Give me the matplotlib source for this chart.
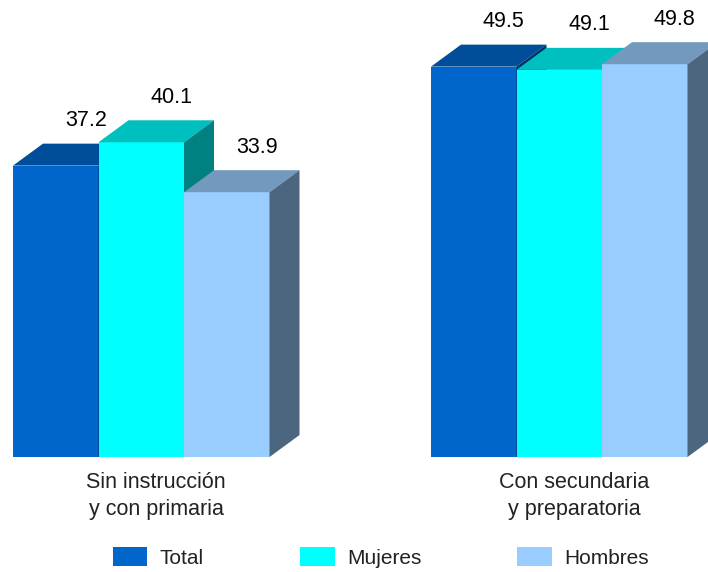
import matplotlib
matplotlib.use('Agg')
import matplotlib.pyplot as plt
import matplotlib.colors as mcolors
from matplotlib.patches import Polygon, Patch

# data
categories = ['Sin instrucción\ny con primaria', 'Con secundaria\ny preparatoria']
series = ['Total', 'Mujeres', 'Hombres']
total = [37.2, 49.5]
mujeres = [40.1, 49.1]
hombres = [33.9, 49.8]
colors = ['#0066CC', '#00FFFF', '#99CCFF']

plt.rcParams['font.family'] = ['Liberation Sans', 'DejaVu Sans']


def shade(c, f):
    """Darker version of a colour for the top / side faces."""
    r, g, b = mcolors.to_rgb(c)
    return (r * f, g * f, b * f)


fig = plt.figure(figsize=(7.08, 5.72), dpi=100)
ax = fig.add_axes([0, 0.201, 1, 0.774])
ax.set_xlim(0, 708)
ax.set_ylim(1, 56)
ax.axis('off')

bar_w = 85.5
group_step = 418
first_center = 141.25
dx = 30            # depth, x units
dy = 22 / 8.05     # depth, value units
floor = ax.get_ylim()[0]

values = [total, mujeres, hombres]
for i, cat in enumerate(categories):
    center = first_center + i * group_step
    left0 = center - 1.5 * bar_w
    for j, (vals, col) in enumerate(zip(values, colors)):
        x0 = left0 + j * bar_w
        x1 = x0 + bar_w
        v = vals[i]
        front = [(x0, floor), (x1, floor), (x1, v), (x0, v)]
        top = [(x0, v), (x1, v), (x1 + dx, v + dy), (x0 + dx, v + dy)]
        side = [(x1, floor), (x1 + dx, floor + dy), (x1 + dx, v + dy), (x1, v)]
        ax.add_patch(Polygon(front, closed=True, facecolor=col, edgecolor='none'))
        ax.add_patch(Polygon(top, closed=True, facecolor=shade(col, 0.75), edgecolor='none'))
        ax.add_patch(Polygon(side, closed=True, facecolor=shade(col, 0.5), edgecolor='none'))
        ax.annotate(f'{v:.1f}', (x0 + bar_w / 2 + dx, v + dy), xytext=(0, 12.5),
                    textcoords='offset points', ha='center', va='baseline',
                    fontsize=15.5, color='black')
    ax.annotate(cat, (center + dx / 2, floor), xytext=(0, -11),
                textcoords='offset points', ha='center', va='top',
                fontsize=15.5, color='#222222', linespacing=1.38)

handles = [Patch(facecolor=c, label=s) for c, s in zip(colors, series)]
fig.legend(handles=handles, loc='center', bbox_to_anchor=(0.538, 0.026), ncol=3,
           frameon=False, fontsize=15, handlelength=1.67, handleheight=1.05,
           handletextpad=0.6, columnspacing=4.6, labelcolor='#222222')

fig.savefig('out.png', dpi=100)
